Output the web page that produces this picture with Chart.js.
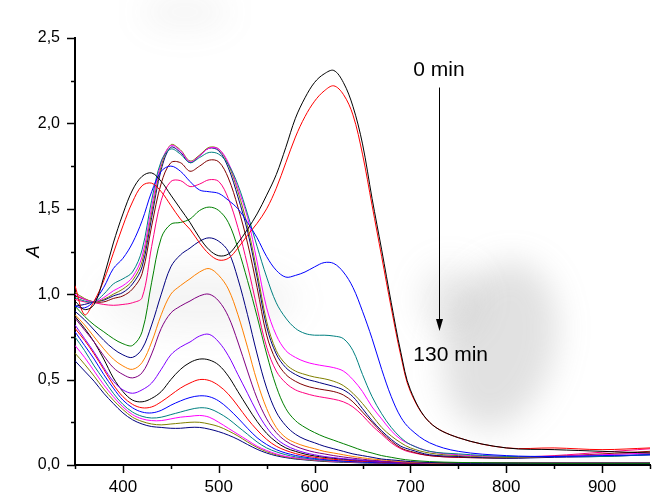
<!DOCTYPE html>
<html><head><meta charset="utf-8">
<script src="https://cdn.jsdelivr.net/npm/chart.js@4"></script>
<style>html,body{margin:0;padding:0;background:#fff}canvas{display:block}</style>
</head><body>
<canvas id="c" width="662" height="496"></canvas>
<script>
// wavelength grid (nm)
const wavelengths = [350,360,370,380,390,400,410,420,430,440,450,460,470,480,490,500,510,520,530,540,550,560,570,580,590,600,610,620,630,640,650,660,670,680,690,700,720,750,800,850,900,950];

// absorbance curves, from 0 min (top) to 130 min (bottom)
const cBlack1 = [0.96,0.91,0.94,1.10,1.30,1.47,1.61,1.69,1.71,1.66,1.58,1.50,1.42,1.33,1.26,1.225,1.235,1.30,1.38,1.47,1.58,1.70,1.86,2.03,2.15,2.24,2.29,2.31,2.24,2.10,1.88,1.56,1.26,0.95,0.66,0.44,0.25,0.16,0.10,0.09,0.08,0.07];
const cRed1 = [1.05,0.88,0.96,1.08,1.24,1.40,1.54,1.635,1.65,1.60,1.52,1.44,1.38,1.30,1.235,1.20,1.21,1.27,1.345,1.415,1.50,1.62,1.77,1.92,2.04,2.13,2.19,2.22,2.17,2.05,1.82,1.52,1.22,0.92,0.64,0.43,0.25,0.16,0.10,0.10,0.09,0.10];
const cBlue1 = [0.93,0.92,0.96,1.04,1.15,1.21,1.30,1.43,1.60,1.72,1.75,1.72,1.66,1.61,1.60,1.59,1.55,1.50,1.42,1.33,1.22,1.14,1.10,1.11,1.13,1.16,1.185,1.18,1.13,1.04,0.90,0.74,0.56,0.40,0.28,0.21,0.13,0.08,0.055,0.05,0.055,0.06];
const cTeal1 = [0.98,0.96,0.955,1.00,1.06,1.09,1.13,1.26,1.55,1.78,1.85,1.82,1.77,1.80,1.83,1.82,1.76,1.64,1.47,1.28,1.10,0.95,0.86,0.80,0.77,0.76,0.76,0.755,0.74,0.67,0.53,0.40,0.30,0.22,0.16,0.12,0.08,0.065,0.05,0.05,0.05,0.06];
const cMagenta1 = [1.00,0.97,0.955,0.98,1.02,1.05,1.10,1.22,1.51,1.77,1.87,1.84,1.775,1.81,1.855,1.85,1.77,1.62,1.45,1.19,0.92,0.76,0.67,0.63,0.605,0.59,0.58,0.57,0.55,0.50,0.43,0.34,0.27,0.20,0.15,0.12,0.08,0.06,0.05,0.05,0.06,0.07];
const cOlive1 = [1.01,0.975,0.955,0.97,1.00,1.03,1.08,1.19,1.48,1.75,1.875,1.845,1.78,1.815,1.86,1.85,1.76,1.60,1.40,1.13,0.84,0.67,0.59,0.55,0.53,0.515,0.505,0.49,0.465,0.42,0.36,0.29,0.22,0.17,0.13,0.10,0.07,0.055,0.045,0.05,0.06,0.075];
const cNavy1 = [0.93,0.94,0.955,0.965,0.99,1.01,1.06,1.16,1.45,1.73,1.86,1.83,1.77,1.81,1.855,1.84,1.74,1.57,1.37,1.10,0.81,0.65,0.57,0.53,0.505,0.49,0.475,0.46,0.44,0.40,0.33,0.26,0.20,0.15,0.11,0.09,0.06,0.05,0.04,0.045,0.05,0.06];
const cWine1 = [0.99,0.97,0.955,0.955,0.975,0.99,1.03,1.12,1.40,1.65,1.77,1.77,1.72,1.75,1.785,1.775,1.68,1.51,1.30,1.04,0.76,0.61,0.53,0.49,0.465,0.45,0.44,0.43,0.41,0.37,0.31,0.25,0.19,0.14,0.10,0.08,0.055,0.045,0.04,0.05,0.065,0.08];
const cPink1 = [0.97,0.955,0.95,0.94,0.935,0.94,0.95,0.98,1.28,1.55,1.66,1.665,1.63,1.645,1.67,1.66,1.56,1.39,1.17,0.92,0.69,0.55,0.48,0.44,0.42,0.405,0.395,0.385,0.37,0.34,0.29,0.23,0.18,0.13,0.095,0.075,0.055,0.045,0.045,0.055,0.075,0.095];
const cGreen1 = [0.93,0.87,0.82,0.78,0.74,0.71,0.70,0.78,1.07,1.33,1.41,1.42,1.44,1.49,1.51,1.49,1.42,1.27,1.08,0.87,0.65,0.46,0.33,0.26,0.22,0.19,0.165,0.145,0.125,0.105,0.085,0.07,0.055,0.045,0.035,0.028,0.02,0.015,0.012,0.01,0.01,0.01];
const cNavy2 = [0.90,0.85,0.79,0.73,0.68,0.645,0.63,0.68,0.82,1.00,1.16,1.23,1.27,1.31,1.33,1.31,1.25,1.09,0.88,0.65,0.45,0.31,0.23,0.18,0.15,0.13,0.11,0.095,0.08,0.065,0.055,0.045,0.035,0.03,0.025,0.02,0.015,0.01,0.01,0.01,0.01,0.01];
const cOrange1 = [0.88,0.82,0.75,0.68,0.62,0.58,0.56,0.60,0.72,0.88,1.00,1.05,1.09,1.13,1.15,1.11,1.03,0.88,0.69,0.49,0.33,0.22,0.16,0.13,0.11,0.095,0.08,0.07,0.06,0.05,0.042,0.035,0.03,0.025,0.02,0.017,0.012,0.01,0.01,0.01,0.01,0.01];
const cPurple1 = [0.86,0.79,0.72,0.64,0.57,0.53,0.51,0.54,0.65,0.80,0.89,0.93,0.96,0.99,1.0,0.96,0.87,0.72,0.55,0.39,0.27,0.19,0.14,0.11,0.09,0.075,0.065,0.055,0.047,0.04,0.034,0.028,0.024,0.02,0.017,0.015,0.012,0.01,0.01,0.01,0.01,0.01];
const cViolet1 = [0.82,0.74,0.66,0.57,0.49,0.44,0.42,0.44,0.48,0.56,0.645,0.69,0.72,0.755,0.765,0.72,0.64,0.53,0.42,0.31,0.22,0.155,0.115,0.09,0.072,0.06,0.05,0.043,0.037,0.032,0.027,0.023,0.02,0.017,0.015,0.013,0.01,0.01,0.01,0.01,0.01,0.01];
const cBlack2 = [0.87,0.80,0.72,0.62,0.51,0.43,0.38,0.37,0.39,0.43,0.50,0.56,0.60,0.62,0.615,0.585,0.52,0.43,0.34,0.255,0.185,0.135,0.10,0.08,0.064,0.053,0.045,0.039,0.034,0.03,0.026,0.023,0.02,0.017,0.015,0.013,0.01,0.01,0.01,0.01,0.01,0.01];
const cRed2 = [0.80,0.73,0.65,0.56,0.47,0.40,0.355,0.335,0.34,0.37,0.41,0.45,0.48,0.50,0.495,0.465,0.415,0.345,0.27,0.205,0.15,0.11,0.085,0.067,0.054,0.045,0.038,0.033,0.029,0.025,0.022,0.02,0.017,0.015,0.012,0.01,0.01,0.01,0.01,0.01,0.01,0.01];
const cBlue2 = [0.78,0.70,0.62,0.53,0.45,0.38,0.335,0.31,0.305,0.32,0.35,0.375,0.395,0.405,0.40,0.375,0.33,0.275,0.215,0.16,0.12,0.09,0.07,0.056,0.046,0.038,0.032,0.027,0.023,0.02,0.018,0.015,0.013,0.012,0.011,0.01,0.01,0.01,0.01,0.01,0.01,0.01];
const cTeal2 = [0.75,0.67,0.58,0.50,0.42,0.355,0.31,0.285,0.275,0.28,0.295,0.31,0.325,0.335,0.33,0.305,0.27,0.225,0.18,0.135,0.10,0.077,0.06,0.048,0.04,0.033,0.028,0.025,0.022,0.02,0.017,0.015,0.013,0.012,0.011,0.01,0.01,0.01,0.01,0.01,0.01,0.01];
const cMagenta2 = [0.70,0.63,0.55,0.47,0.40,0.34,0.295,0.27,0.26,0.26,0.27,0.28,0.285,0.29,0.28,0.25,0.215,0.18,0.145,0.11,0.085,0.065,0.05,0.042,0.035,0.03,0.026,0.022,0.02,0.018,0.016,0.014,0.012,0.011,0.01,0.01,0.01,0.01,0.01,0.01,0.01,0.01];
const cOlive2 = [0.655,0.59,0.52,0.445,0.38,0.325,0.28,0.255,0.24,0.235,0.24,0.245,0.25,0.25,0.24,0.225,0.20,0.17,0.135,0.103,0.078,0.06,0.047,0.038,0.032,0.027,0.023,0.02,0.018,0.016,0.014,0.013,0.012,0.011,0.01,0.01,0.01,0.01,0.01,0.01,0.01,0.01];
const cNavy3 = [0.61,0.55,0.49,0.42,0.36,0.305,0.265,0.24,0.225,0.22,0.215,0.215,0.22,0.22,0.21,0.195,0.175,0.15,0.12,0.092,0.07,0.054,0.043,0.035,0.03,0.025,0.021,0.018,0.016,0.014,0.012,0.011,0.01,0.009,0.008,0.008,0.008,0.008,0.008,0.008,0.008,0.008];

const curves = [cBlack1,cRed1,cBlue1,cTeal1,cMagenta1,cOlive1,cNavy1,cWine1,cPink1,cGreen1,cNavy2,cOrange1,cPurple1,cViolet1,cBlack2,cRed2,cBlue2,cTeal2,cMagenta2,cOlive2,cNavy3];
const curveColors = ['#000000','#ff0000','#0000ff','#008080','#ff00ff','#808000','#000080','#800000','#ff0080','#008000','#000080','#ff8000','#800080','#8000ff','#000000','#ff0000','#0000ff','#008080','#ff00ff','#808000','#000080'];

// annotation (data coordinates)
const labelStart = {text:'0 min', x:703, y:2.31};
const labelEnd = {text:'130 min', x:703, y:0.645};
const arrowX = 730, arrowFromY = 2.21, arrowToY = 0.785;

const FONT = "'Liberation Sans', Arial, sans-serif";

const decorPlugin = {
  id:'decor',
  beforeDraw(chart){
    const ctx = chart.ctx;
    ctx.save();
    ctx.fillStyle = '#fff';
    ctx.fillRect(0,0,chart.width,chart.height);
    ctx.filter = 'blur(16px)';
    ctx.fillStyle = 'rgba(120,120,120,0.22)';
    ctx.beginPath(); ctx.ellipse(500,345,55,85,0.25,0,Math.PI*2); ctx.fill();
    ctx.fillStyle = 'rgba(120,120,120,0.14)';
    ctx.beginPath(); ctx.ellipse(450,300,30,35,0,0,Math.PI*2); ctx.fill();
    ctx.fillStyle = 'rgba(120,120,120,0.07)';
    ctx.beginPath(); ctx.ellipse(200,300,100,35,0,0,Math.PI*2); ctx.fill();
    ctx.beginPath(); ctx.ellipse(185,12,45,18,0,0,Math.PI*2); ctx.fill();
    ctx.restore();
  },
  afterDraw(chart){
    const ctx = chart.ctx;
    const xs = chart.scales.x, ys = chart.scales.y;
    const ca = chart.chartArea;
    ctx.save();
    ctx.strokeStyle = '#000'; ctx.lineWidth = 1.5;
    xs.ticks.forEach(t=>{
      const px = Math.round(xs.getPixelForValue(t.value))+0.5;
      const len = (t.value % 100 === 0) ? 8 : 4;
      ctx.beginPath(); ctx.moveTo(px, ca.bottom); ctx.lineTo(px, ca.bottom+len); ctx.stroke();
    });
    ys.ticks.forEach(t=>{
      const py = Math.round(ys.getPixelForValue(t.value))+0.5;
      const len = (Math.round(t.value*100) % 50 === 0) ? 8 : 4;
      ctx.beginPath(); ctx.moveTo(ca.left, py); ctx.lineTo(ca.left-len, py); ctx.stroke();
    });
    // annotation
    ctx.fillStyle = '#000';
    ctx.font = '21px ' + FONT;
    ctx.textAlign = 'left'; ctx.textBaseline = 'middle';
    [labelStart, labelEnd].forEach(l=>{
      ctx.fillText(l.text, xs.getPixelForValue(l.x), ys.getPixelForValue(l.y));
    });
    const ax = Math.round(xs.getPixelForValue(arrowX))+0.5;
    const ay1 = ys.getPixelForValue(arrowFromY), ay2 = ys.getPixelForValue(arrowToY);
    ctx.lineWidth = 1;
    ctx.beginPath(); ctx.moveTo(ax, ay1); ctx.lineTo(ax, ay2-8); ctx.stroke();
    ctx.beginPath(); ctx.moveTo(ax, ay2); ctx.lineTo(ax-3.5, ay2-12); ctx.lineTo(ax+3.5, ay2-12); ctx.closePath(); ctx.fill();
    ctx.restore();
  }
};

new Chart(document.getElementById('c').getContext('2d'), {
  type:'line',
  data:{
    datasets: curves.map((c,i)=>({
      data: wavelengths.map((w,j)=>({x:w, y:c[j]})),
      borderColor: curveColors[i],
      borderWidth: 1,
      pointRadius: 0,
      fill: false,
      tension: 0.35
    }))
  },
  options:{
    responsive:false, animation:false, devicePixelRatio:1,
    layout:{padding:{left:0, right:9, top:38, bottom:0}},
    plugins:{legend:{display:false}, tooltip:{enabled:false}},
    scales:{
      x:{
        type:'linear', min:350, max:950,
        ticks:{stepSize:50, autoSkip:false, maxRotation:0, color:'#000', padding:12,
          font:{family:FONT, size:17},
          callback:v => (v % 100 === 0 && v < 950) ? String(v) : ''},
        grid:{display:true, drawOnChartArea:false, drawTicks:false},
        border:{display:true, color:'#000', width:2},
        afterFit:s => { s.height = 31; }
      },
      y:{
        min:0, max:2.5,
        ticks:{stepSize:0.25, autoSkip:false, color:'#000', padding:15,
          font:{family:FONT, size:16},
          callback:v => (Math.round(v*100) % 50 === 0) ? v.toFixed(1).replace('.', ',') : ''},
        grid:{display:true, drawOnChartArea:false, drawTicks:false},
        border:{display:true, color:'#000', width:2},
        title:{display:true, text:'A', color:'#000', font:{family:FONT, size:18, style:'italic'}, padding:{top:23, bottom:0}},
        afterFit:s => { s.width = 75; }
      }
    }
  },
  plugins:[decorPlugin]
});
</script>
</body></html>
